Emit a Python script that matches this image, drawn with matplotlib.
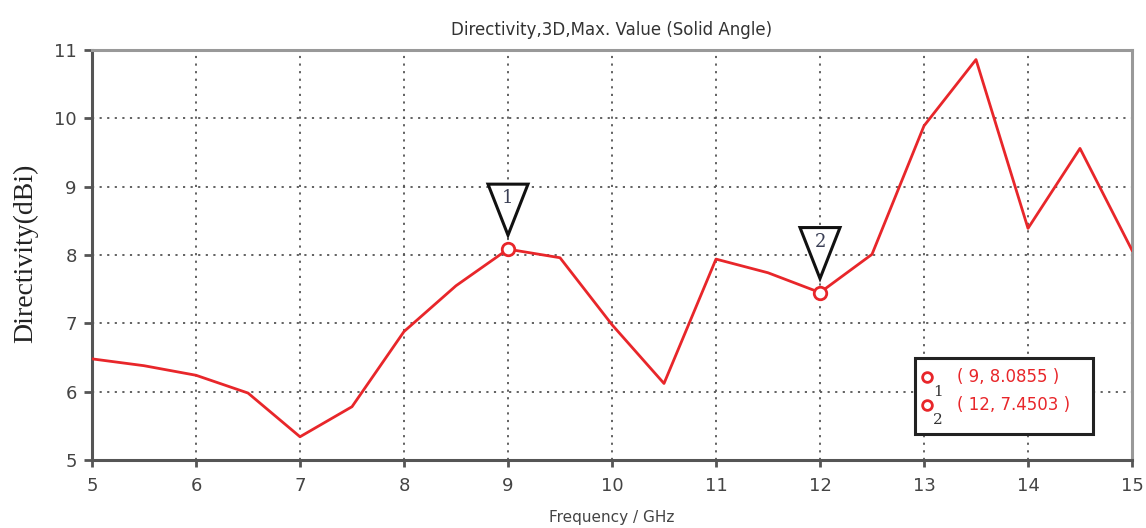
import numpy as np
import matplotlib
matplotlib.use('Agg')
import matplotlib.pyplot as plt
import matplotlib.transforms as mtransforms
from matplotlib.patches import Polygon, Rectangle

# frequency sweep (GHz) and directivity (dBi)
freq = [5, 5.5, 6, 6.5, 7, 7.5, 8, 8.5, 9, 9.5, 10,
        10.5, 11, 11.5, 12, 12.5, 13, 13.5, 14, 14.5, 15]
direct = [6.48, 6.38, 6.24, 5.98, 5.34, 5.78, 6.88, 7.55, 8.0855, 7.96, 6.98,
          6.12, 7.94, 7.74, 7.4503, 8.01, 9.89, 10.86, 8.39, 9.56, 8.07]

# marker points
mk_label = ['1', '2']
mk_x = [9, 12]
mk_y = [8.0855, 7.4503]

xticks = [5, 6, 7, 8, 9, 10, 11, 12, 13, 14, 15]
yticks = [5, 6, 7, 8, 9, 10, 11]

red = '#e8262a'

fig = plt.figure(figsize=(11.46, 5.28), dpi=100)
ax = fig.add_axes([92/1146, 68/528, 1040/1146, 410/528])

ax.plot(freq, direct, color=red, lw=2, zorder=3)
ax.plot(mk_x, mk_y, 'o', ms=9, mfc='white', mec=red, mew=2, zorder=4)

# inverted triangle flags above each marker (offsets in inches)
tri = [(0, 0.14), (-0.20, 0.65), (0.20, 0.65)]
for lab, x, y in zip(mk_label, mk_x, mk_y):
    tr = fig.dpi_scale_trans + mtransforms.ScaledTranslation(x, y, ax.transData)
    ax.add_patch(Polygon(tri, closed=True, transform=tr, fc='white', ec='#111111',
                         lw=2.2, zorder=5, clip_on=False))
    ax.text(0, 0.51, lab, transform=tr, ha='center', va='center', fontsize=13,
            family='DejaVu Serif', color='#3a3f55', zorder=6)

# marker readout box
ax.add_patch(Rectangle((0.791, 0.063), 0.1715, 0.186, transform=ax.transAxes,
                       fc='white', ec='#222222', lw=2.2, zorder=6))
ty = [0.202, 0.134]
for i in range(len(mk_x)):
    ax.plot(0.803, ty[i], 'o', ms=7, mfc='none', mec=red, mew=2,
            transform=ax.transAxes, zorder=7)
    ax.text(0.813, ty[i] - 0.036, mk_label[i], transform=ax.transAxes, ha='center',
            va='center', fontsize=11, family='DejaVu Serif', color='#333333', zorder=7)
    ax.text(0.832, ty[i], '( %g, %.4f )' % (mk_x[i], mk_y[i]), transform=ax.transAxes,
            ha='left', va='center', fontsize=12, color=red, zorder=7)

ax.set_xlim(5, 15)
ax.set_ylim(5, 11)
ax.set_xticks(xticks)
ax.set_yticks(yticks)
ax.grid(True, color='#555555', lw=1.3, linestyle=(0, (1.2, 3)))
ax.tick_params(axis='x', length=5, width=2, color='#555555', labelsize=13,
               labelcolor='#444444', pad=7)
ax.tick_params(axis='y', length=6, width=2, color='#555555', labelsize=13,
               labelcolor='#444444', pad=5)

for s in ['left', 'bottom']:
    ax.spines[s].set_color('#555555')
    ax.spines[s].set_linewidth(2.2)
for s in ['top', 'right']:
    ax.spines[s].set_color('#999999')
    ax.spines[s].set_linewidth(2.2)

ax.set_title('Directivity,3D,Max. Value (Solid Angle)', fontsize=12, color='#333333', pad=11)
ax.set_xlabel('Frequency / GHz', fontsize=11, color='#444444', va='center')
ax.xaxis.set_label_coords(0.5, -0.14)
ax.set_ylabel('Directivity(dBi)', fontsize=20, family='Liberation Serif', color='#222222',
              va='center')
ax.yaxis.set_label_coords(-0.064, 0.505)

fig.savefig('out.png', dpi=100)
